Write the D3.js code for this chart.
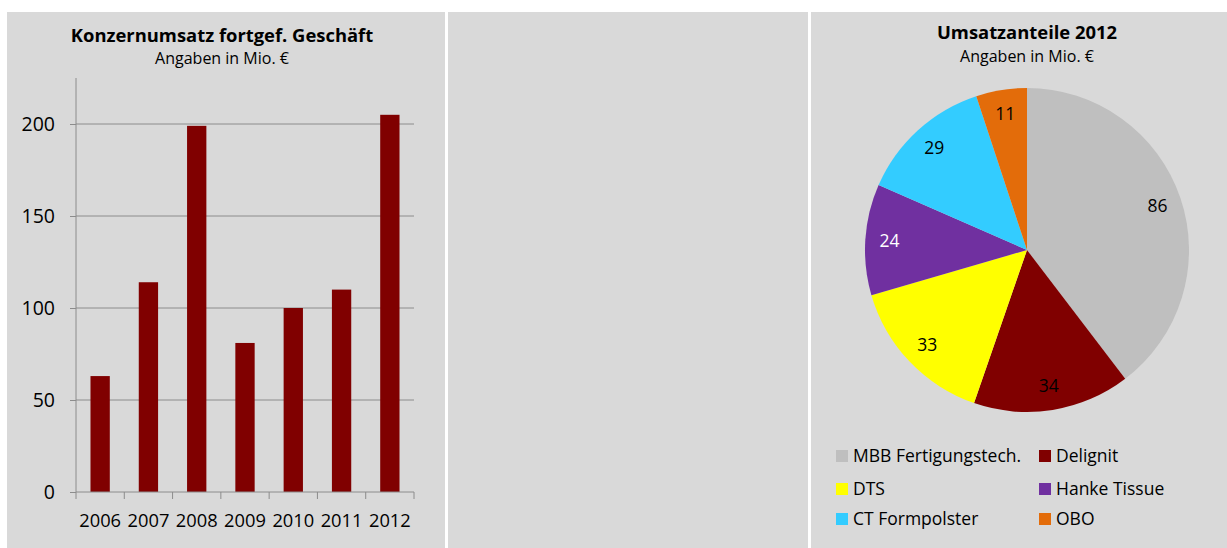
<!DOCTYPE html>
<html>
<head>
<meta charset="utf-8">
<script src="https://cdn.jsdelivr.net/npm/d3@7"></script>
<style>
  body { margin: 0; background: #fff; }
  text { font-family: "Open Sans", sans-serif; fill: #000; }
</style>
</head>
<body>
<script>
// ---- data ----
let years = ['2006', '2007', '2008', '2009', '2010', '2011', '2012'];
let revenue = [63, 114, 199, 81, 100, 110, 205];
let yTicks = [0, 50, 100, 150, 200];

let segments = ['MBB Fertigungstech.', 'Delignit', 'DTS', 'Hanke Tissue', 'CT Formpolster', 'OBO'];
let shares = [86, 34, 33, 24, 29, 11];
let segColors = ['#bfbfbf', '#800000', '#ffff00', '#7030a0', '#33ccff', '#e36c0a'];
let labelColors = ['#000', '#000', '#000', '#fff', '#000', '#000'];

let svg = d3.select('body')
    .append('svg')
        .attr('width', 1227)
        .attr('height', 548);

// panels
let panels = [[7, 438], [448, 360], [811, 416]];
svg.selectAll('rect.panel')
    .data(panels).enter()
    .append('rect')
        .attr('class', 'panel')
        .attr('x', d => d[0])
        .attr('y', 12)
        .attr('width', d => d[1])
        .attr('height', 536)
        .attr('fill', '#d9d9d9');

// ============================ BAR CHART ============================
let x = d3.scaleBand().domain(years).range([76, 414]).paddingInner(0.6).paddingOuter(0.3);
let y = d3.scaleLinear().domain([0, 225]).range([492, 78]);

let bar = svg.append('g');

bar.append('text')
    .attr('x', 222).attr('y', 42)
    .attr('text-anchor', 'middle')
    .attr('font-size', 18.4).attr('font-weight', 'bold')
    .text('Konzernumsatz fortgef. Geschäft');
bar.append('text')
    .attr('x', 222).attr('y', 64)
    .attr('text-anchor', 'middle')
    .attr('font-size', 16)
    .text('Angaben in Mio. €');

// gridlines
bar.selectAll('line.grid')
    .data(yTicks.slice(1)).enter()
    .append('line')
        .attr('x1', 76).attr('x2', 414)
        .attr('y1', d => y(d)).attr('y2', d => y(d))
        .attr('stroke', '#8c8c8c').attr('stroke-width', 1);

bar.selectAll('rect.bar')
    .data(revenue).enter()
    .append('rect')
        .attr('x', (d, i) => x(years[i]))
        .attr('width', x.bandwidth())
        .attr('y', d => y(d))
        .attr('height', d => y(0) - y(d))
        .attr('fill', '#800000');

let yAxis = bar.append('g')
    .attr('transform', 'translate(76,0)')
    .call(d3.axisLeft(y).tickValues(yTicks).tickSize(6).tickPadding(15));
yAxis.select('.domain').attr('stroke', '#8c8c8c').attr('d', 'M0,78V492');
yAxis.selectAll('.tick line').attr('stroke', '#8c8c8c').attr('x2', -6);
yAxis.selectAll('text').attr('font-size', 19.5).attr('font-family', '"Open Sans", sans-serif').attr('fill', '#000');

let xAxis = bar.append('g')
    .attr('transform', 'translate(0,492)')
    .call(d3.axisBottom(x).tickSize(0).tickPadding(22));
xAxis.select('.domain').attr('stroke', '#8c8c8c').attr('d', 'M76,0H414');
xAxis.selectAll('text').attr('font-size', 18.3).attr('font-family', '"Open Sans", sans-serif').attr('fill', '#000');

// category boundary ticks
let bounds = years.map(d => x(d) - x.step() * x.paddingInner() / 2).concat([414]);
bounds[0] = 76;
bar.selectAll('line.xtick')
    .data(bounds).enter()
    .append('line')
        .attr('x1', d => d).attr('x2', d => d)
        .attr('y1', 492).attr('y2', 499)
        .attr('stroke', '#8c8c8c');

// ============================ PIE CHART ============================
let cx = 1027, cy = 250, r = 162;
let pie = svg.append('g').attr('transform', 'translate(' + cx + ',' + cy + ')');

svg.append('text')
    .attr('x', cx).attr('y', 39)
    .attr('text-anchor', 'middle')
    .attr('font-size', 18.4).attr('font-weight', 'bold')
    .text('Umsatzanteile 2012');
svg.append('text')
    .attr('x', cx).attr('y', 62)
    .attr('text-anchor', 'middle')
    .attr('font-size', 16)
    .text('Angaben in Mio. €');

let arcs = d3.pie().sort(null).value(d => d)(shares);
let arc = d3.arc().innerRadius(0).outerRadius(r);
let labelArc = d3.arc().innerRadius(r * 0.85).outerRadius(r * 0.85);

pie.selectAll('path')
    .data(arcs).enter()
    .append('path')
        .attr('d', arc)
        .attr('fill', (d, i) => segColors[i]);

pie.selectAll('text')
    .data(arcs).enter()
    .append('text')
        .attr('transform', d => 'translate(' + labelArc.centroid(d) + ')')
        .attr('text-anchor', 'middle')
        .attr('dy', '0.35em')
        .attr('font-size', 17.5)
        .style('fill', (d, i) => labelColors[i])
        .text(d => d.data);

// legend
let legend = svg.selectAll('g.legend')
    .data(segments).enter()
    .append('g')
        .attr('transform', (d, i) => 'translate(' + (i % 2 ? 1039 : 836) + ',' + [456, 489, 519][Math.floor(i / 2)] + ')');
legend.append('rect')
    .attr('x', 0).attr('y', -6)
    .attr('width', 12).attr('height', 12)
    .attr('fill', (d, i) => segColors[i]);
legend.append('text')
    .attr('x', 17).attr('dy', '0.35em')
    .attr('font-size', 17.5)
    .text(d => d);
</script>
</body>
</html>
